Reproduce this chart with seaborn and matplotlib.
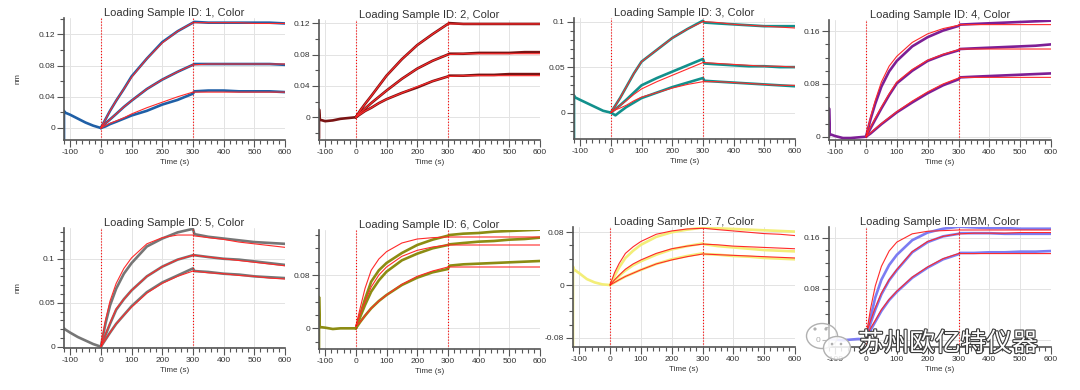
import matplotlib
matplotlib.use("Agg")
import matplotlib.pyplot as plt
import matplotlib.ticker as mticker
import matplotlib.patheffects as pe
from matplotlib.patches import Ellipse, Circle
import seaborn as sns
import pandas as pd

# time grid (s) for association (0-300) and dissociation (300-600)
T = [0, 15, 30, 50, 75, 100, 150, 200, 250, 300, 305, 350, 400, 450, 500, 550, 600]
# baseline step, the first two points make the start-up spike at -120 s
T_BASE = [-120, -120, -118, -100, -75, -50, -25, 0]

TITLES = ["Loading Sample ID: 1, Color", "Loading Sample ID: 2, Color",
          "Loading Sample ID: 3, Color", "Loading Sample ID: 4, Color",
          "Loading Sample ID: 5, Color", "Loading Sample ID: 6, Color",
          "Loading Sample ID: 7, Color", "Loading Sample ID: MBM, Color"]
COLORS = ["#1f5fa6", "#7a1414", "#12908c", "#7d1f95",
          "#767676", "#8c8c12", "#f3ee78", "#7c7cf2"]
FIT_COLOR = "#ff2a2a"

# ---- sample 1
p1_base = [-0.015, 0.022, 0.020, 0.017, 0.012, 0.007, 0.003, 0.0]
p1_data = [[0, 0.011, 0.022, 0.035, 0.050, 0.066, 0.089, 0.110, 0.124, 0.135, 0.136, 0.135, 0.135, 0.135, 0.135, 0.135, 0.134],
           [0, 0.006, 0.011, 0.018, 0.027, 0.035, 0.050, 0.062, 0.072, 0.081, 0.082, 0.082, 0.082, 0.082, 0.082, 0.082, 0.081],
           [0, 0.002, 0.005, 0.008, 0.012, 0.016, 0.022, 0.030, 0.036, 0.044, 0.047, 0.048, 0.048, 0.047, 0.047, 0.047, 0.046]]
p1_fit = [[0, 0.011, 0.022, 0.035, 0.050, 0.065, 0.089, 0.109, 0.124, 0.135, 0.135, 0.135, 0.135, 0.135, 0.134, 0.134, 0.134],
          [0, 0.006, 0.011, 0.018, 0.027, 0.035, 0.050, 0.062, 0.072, 0.081, 0.081, 0.082, 0.082, 0.082, 0.082, 0.082, 0.082],
          [0, 0.003, 0.006, 0.009, 0.013, 0.018, 0.026, 0.033, 0.040, 0.046, 0.046, 0.046, 0.046, 0.046, 0.046, 0.046, 0.046]]

# ---- sample 2
p2_base = [-0.027, 0.010, -0.003, -0.005, -0.004, -0.002, -0.001, 0.0]
p2_data = [[0, 0.009, 0.017, 0.027, 0.040, 0.053, 0.074, 0.092, 0.106, 0.119, 0.120, 0.119, 0.119, 0.119, 0.119, 0.119, 0.119],
           [0, 0.006, 0.011, 0.018, 0.026, 0.034, 0.049, 0.062, 0.072, 0.080, 0.081, 0.081, 0.082, 0.082, 0.082, 0.083, 0.083],
           [0, 0.004, 0.008, 0.012, 0.018, 0.023, 0.031, 0.038, 0.046, 0.052, 0.053, 0.053, 0.054, 0.054, 0.055, 0.055, 0.055]]
p2_fit = [[0, 0.009, 0.017, 0.027, 0.040, 0.053, 0.074, 0.092, 0.106, 0.119, 0.119, 0.119, 0.119, 0.119, 0.119, 0.119, 0.119],
          [0, 0.006, 0.011, 0.018, 0.026, 0.034, 0.049, 0.062, 0.072, 0.080, 0.080, 0.081, 0.081, 0.081, 0.081, 0.081, 0.081],
          [0, 0.004, 0.008, 0.012, 0.018, 0.023, 0.031, 0.039, 0.046, 0.052, 0.052, 0.053, 0.053, 0.053, 0.053, 0.053, 0.053]]

# ---- sample 3
p3_base = [-0.029, 0.019, 0.017, 0.014, 0.010, 0.006, 0.002, 0.0]
p3_data = [[0, 0.008, 0.016, 0.028, 0.043, 0.056, 0.069, 0.082, 0.092, 0.101, 0.099, 0.098, 0.097, 0.096, 0.095, 0.095, 0.095],
           [0, 0.004, 0.008, 0.014, 0.022, 0.030, 0.038, 0.045, 0.052, 0.059, 0.054, 0.053, 0.052, 0.051, 0.051, 0.050, 0.050],
           [0, -0.003, 0.001, 0.006, 0.011, 0.016, 0.022, 0.028, 0.033, 0.038, 0.035, 0.034, 0.033, 0.032, 0.031, 0.030, 0.029]]
p3_fit = [[0, 0.008, 0.016, 0.028, 0.043, 0.056, 0.069, 0.082, 0.092, 0.100, 0.100, 0.099, 0.097, 0.096, 0.095, 0.094, 0.093],
          [0, 0.004, 0.008, 0.013, 0.020, 0.026, 0.034, 0.041, 0.048, 0.055, 0.055, 0.054, 0.053, 0.052, 0.051, 0.051, 0.050],
          [0, 0.003, 0.005, 0.008, 0.013, 0.017, 0.022, 0.027, 0.031, 0.034, 0.034, 0.034, 0.033, 0.032, 0.031, 0.030, 0.030]]

# ---- sample 4
p4_base = [0.0, 0.043, 0.004, 0.001, -0.002, -0.002, -0.001, 0.0]
p4_data = [[0, 0.027, 0.050, 0.076, 0.099, 0.115, 0.137, 0.151, 0.161, 0.168, 0.170, 0.171, 0.172, 0.173, 0.174, 0.175, 0.176],
           [0, 0.013, 0.026, 0.043, 0.063, 0.081, 0.100, 0.115, 0.124, 0.131, 0.133, 0.134, 0.135, 0.136, 0.137, 0.138, 0.140],
           [0, 0.005, 0.011, 0.019, 0.028, 0.037, 0.052, 0.066, 0.078, 0.087, 0.090, 0.091, 0.092, 0.093, 0.094, 0.095, 0.096]]
p4_fit = [[0, 0.030, 0.055, 0.083, 0.107, 0.122, 0.143, 0.156, 0.164, 0.169, 0.170, 0.170, 0.170, 0.170, 0.170, 0.170, 0.170],
          [0, 0.015, 0.028, 0.045, 0.065, 0.083, 0.102, 0.116, 0.125, 0.132, 0.133, 0.133, 0.133, 0.133, 0.133, 0.133, 0.133],
          [0, 0.006, 0.012, 0.020, 0.029, 0.038, 0.054, 0.068, 0.080, 0.089, 0.090, 0.090, 0.090, 0.090, 0.090, 0.090, 0.090]]

# ---- sample 5
p5_base = [0.021, 0.021, 0.020, 0.016, 0.011, 0.007, 0.003, 0.0]
p5_data = [[0, 0.026, 0.047, 0.066, 0.083, 0.095, 0.114, 0.123, 0.130, 0.134, 0.128, 0.125, 0.123, 0.121, 0.119, 0.118, 0.117],
           [0, 0.013, 0.026, 0.042, 0.054, 0.064, 0.080, 0.091, 0.099, 0.104, 0.104, 0.102, 0.100, 0.099, 0.097, 0.095, 0.093],
           [0, 0.008, 0.016, 0.026, 0.036, 0.046, 0.062, 0.073, 0.081, 0.089, 0.086, 0.085, 0.083, 0.082, 0.080, 0.079, 0.078]]
p5_fit = [[0, 0.030, 0.052, 0.072, 0.089, 0.101, 0.117, 0.124, 0.127, 0.127, 0.126, 0.124, 0.122, 0.119, 0.117, 0.115, 0.113],
          [0, 0.014, 0.027, 0.043, 0.054, 0.064, 0.080, 0.091, 0.099, 0.104, 0.104, 0.102, 0.100, 0.098, 0.096, 0.094, 0.092],
          [0, 0.008, 0.016, 0.026, 0.036, 0.045, 0.061, 0.072, 0.080, 0.086, 0.086, 0.084, 0.083, 0.081, 0.080, 0.078, 0.077]]

# ---- sample 6
p6_base = [-0.031, 0.047, 0.002, 0.001, -0.001, 0.000, 0.000, 0.0]
p6_data = [[0, 0.022, 0.044, 0.070, 0.087, 0.098, 0.113, 0.125, 0.133, 0.139, 0.140, 0.142, 0.143, 0.145, 0.146, 0.147, 0.148],
           [0, 0.018, 0.035, 0.055, 0.072, 0.085, 0.102, 0.112, 0.120, 0.125, 0.126, 0.128, 0.130, 0.131, 0.133, 0.134, 0.136],
           [0, 0.010, 0.019, 0.030, 0.041, 0.050, 0.065, 0.076, 0.084, 0.089, 0.094, 0.096, 0.097, 0.098, 0.099, 0.100, 0.101]]
p6_fit = [[0.003, 0.032, 0.060, 0.087, 0.104, 0.115, 0.128, 0.134, 0.136, 0.137, 0.137, 0.137, 0.137, 0.137, 0.137, 0.137, 0.137],
          [0.003, 0.022, 0.040, 0.062, 0.080, 0.092, 0.108, 0.117, 0.122, 0.125, 0.125, 0.125, 0.125, 0.125, 0.125, 0.125, 0.125],
          [0.003, 0.010, 0.019, 0.030, 0.041, 0.050, 0.066, 0.078, 0.086, 0.092, 0.092, 0.092, 0.092, 0.092, 0.092, 0.092, 0.092]]

# ---- sample 7
p7_base = [-0.094, 0.028, 0.024, 0.018, 0.009, 0.004, 0.001, 0.0]
p7_data = [[0, 0.014, 0.027, 0.041, 0.052, 0.061, 0.073, 0.080, 0.084, 0.087, 0.087, 0.086, 0.085, 0.084, 0.083, 0.082, 0.081],
           [0, 0.007, 0.014, 0.022, 0.030, 0.036, 0.046, 0.054, 0.059, 0.063, 0.062, 0.059, 0.057, 0.055, 0.053, 0.052, 0.051],
           [0, 0.004, 0.008, 0.013, 0.018, 0.023, 0.032, 0.039, 0.044, 0.048, 0.047, 0.046, 0.044, 0.043, 0.041, 0.040, 0.039]]
p7_fit = [[0, 0.019, 0.033, 0.048, 0.058, 0.066, 0.077, 0.082, 0.085, 0.086, 0.086, 0.084, 0.082, 0.080, 0.078, 0.077, 0.075],
          [0, 0.008, 0.015, 0.024, 0.032, 0.038, 0.048, 0.055, 0.059, 0.062, 0.062, 0.061, 0.059, 0.058, 0.057, 0.056, 0.055],
          [0, 0.004, 0.008, 0.013, 0.018, 0.023, 0.032, 0.038, 0.043, 0.047, 0.047, 0.046, 0.045, 0.044, 0.043, 0.042, 0.041]]

# ---- MBM
p8_base = [0.0, 0.0, 0.001, 0.0, -0.001, 0.0, 0.001, 0.0]
p8_data = [[0, 0.035, 0.066, 0.094, 0.117, 0.133, 0.156, 0.168, 0.174, 0.177, 0.177, 0.176, 0.175, 0.175, 0.174, 0.174, 0.174],
           [0, 0.026, 0.047, 0.071, 0.093, 0.109, 0.137, 0.153, 0.162, 0.166, 0.167, 0.167, 0.167, 0.166, 0.166, 0.166, 0.166],
           [0, 0.015, 0.028, 0.045, 0.062, 0.075, 0.097, 0.113, 0.126, 0.134, 0.136, 0.136, 0.137, 0.137, 0.138, 0.138, 0.139]]
p8_fit = [[0.005, 0.049, 0.084, 0.115, 0.139, 0.153, 0.166, 0.170, 0.171, 0.172, 0.172, 0.172, 0.172, 0.172, 0.172, 0.172, 0.172],
          [0.008, 0.030, 0.050, 0.073, 0.094, 0.110, 0.138, 0.154, 0.162, 0.166, 0.166, 0.167, 0.167, 0.167, 0.168, 0.168, 0.168],
          [0.005, 0.018, 0.030, 0.047, 0.063, 0.076, 0.098, 0.114, 0.127, 0.135, 0.135, 0.135, 0.135, 0.135, 0.135, 0.135, 0.135]]

BASES = [p1_base, p2_base, p3_base, p4_base, p5_base, p6_base, p7_base, p8_base]
DATAS = [p1_data, p2_data, p3_data, p4_data, p5_data, p6_data, p7_data, p8_data]
FITS = [p1_fit, p2_fit, p3_fit, p4_fit, p5_fit, p6_fit, p7_fit, p8_fit]

# axis ranges / ticks per panel
YLIMS = [(-0.0154, 0.141), (-0.029, 0.124), (-0.029, 0.104), (-0.005, 0.177),
         (-0.0015, 0.135), (-0.031, 0.1475), (-0.094, 0.088), (-0.0116, 0.1767)]
Y_MAJOR = [0.04, 0.04, 0.05, 0.08, 0.05, 0.08, 0.08, 0.08]
Y_MINOR = [0.02, 0.02, 0.01, 0.02, 0.01, 0.02, 0.02, 0.02]

# axes boxes in pixels: left, right, top, bottom
W, H = 1080, 390
AX_BOX = [(64, 285, 18, 140), (319, 540, 20, 140), (574, 795, 18, 139), (829, 1051, 20, 140),
          (64, 285, 228, 348), (319, 540, 230, 349), (573, 795, 227, 347), (829, 1051, 227, 347)]

sns.set_theme(style="whitegrid")
plt.rcParams["font.family"] = ["Liberation Sans", "DejaVu Sans"]
plt.rcParams["axes.unicode_minus"] = False


def tick_fmt(v, _):
    if abs(v) < 1e-9:
        return "0"
    return f"{v:g}"


fig = plt.figure(figsize=(W / 100, H / 100), dpi=100)

for i in range(8):
    l, r, t, b = AX_BOX[i]
    ax = fig.add_axes([l / W, 1 - b / H, (r - l) / W, (b - t) / H])
    c = COLORS[i]

    base_df = pd.DataFrame({"t": T_BASE, "nm": BASES[i]})
    data_df = pd.DataFrame([(k, tt, v) for k, curve in enumerate(DATAS[i]) for tt, v in zip(T, curve)],
                           columns=["curve", "t", "nm"])
    fit_df = pd.DataFrame([(k, tt, v) for k, curve in enumerate(FITS[i]) for tt, v in zip(T, curve)],
                          columns=["curve", "t", "nm"])

    sns.lineplot(data=base_df, x="t", y="nm", sort=False, estimator=None,
                 color=c, lw=1.9, ax=ax)
    sns.lineplot(data=data_df, x="t", y="nm", units="curve", sort=False, estimator=None,
                 color=c, lw=1.9, ax=ax, legend=False)
    sns.lineplot(data=fit_df, x="t", y="nm", units="curve", sort=False, estimator=None,
                 color=FIT_COLOR, lw=0.8, ax=ax, legend=False)

    ax.axvline(0, color="red", ls=":", lw=0.8)
    ax.axvline(300, color="red", ls=":", lw=0.8)

    ax.set_xlim(-120, 600)
    ax.set_ylim(*YLIMS[i])
    ax.xaxis.set_major_locator(mticker.MultipleLocator(100))
    ax.xaxis.set_minor_locator(mticker.MultipleLocator(20))
    ax.yaxis.set_major_locator(mticker.MultipleLocator(Y_MAJOR[i]))
    ax.yaxis.set_minor_locator(mticker.MultipleLocator(Y_MINOR[i]))
    ax.yaxis.set_major_formatter(mticker.FuncFormatter(tick_fmt))

    ax.tick_params(which="both", direction="out", bottom=True, left=True,
                   color="#555555", width=0.8)
    ax.tick_params(which="major", length=5, labelsize=6, labelcolor="#333333", pad=1.5)
    ax.tick_params(which="minor", length=3)

    for s in ["top", "right"]:
        ax.spines[s].set_visible(False)
    for s in ["left", "bottom"]:
        ax.spines[s].set_color("#555555")
        ax.spines[s].set_linewidth(1.2)

    ax.grid(True, which="major", color="#e3e3e3", lw=0.7)
    ax.grid(False, which="minor")
    ax.set_axisbelow(True)

    ax.set_title(TITLES[i], fontsize=8, pad=1.5, color="#333333")
    ax.set_xlabel("Time (s)", fontsize=5.8, labelpad=2, color="#333333")
    if i in (0, 4):
        ax.set_ylabel("nm", fontsize=5.8, color="#333333")
        ax.yaxis.set_label_coords(-(64 - 22) / (r - l), 0.5)
    else:
        ax.set_ylabel("")

# watermark overlay in pixel coordinates
ov = fig.add_axes([0, 0, 1, 1])
ov.set_xlim(0, W)
ov.set_ylim(H, 0)
ov.axis("off")
ov.patch.set_alpha(0)
ov.add_patch(Ellipse((822, 336), 31, 25, facecolor=(1, 1, 1, 0.6), edgecolor="#b0b0b0", lw=1.0))
ov.add_patch(Ellipse((837, 348), 27, 23, facecolor=(1, 1, 1, 0.85), edgecolor="#b0b0b0", lw=1.0))
for ex, ey, er in [(815, 329, 1.6), (826, 329, 1.6), (832, 344, 1.3), (841, 344, 1.3)]:
    ov.add_patch(Circle((ex, ey), er, facecolor="#b0b0b0", edgecolor="none"))
ov.text(948, 344, "苏州欧亿特仪器", fontsize=18.5, family=["Noto Sans CJK SC", "DejaVu Sans"],
        color="white", ha="center", va="center",
        path_effects=[pe.withStroke(linewidth=1.6, foreground="#3a3a3a")])

fig.savefig("out.png", dpi=100)
plt.close(fig)
